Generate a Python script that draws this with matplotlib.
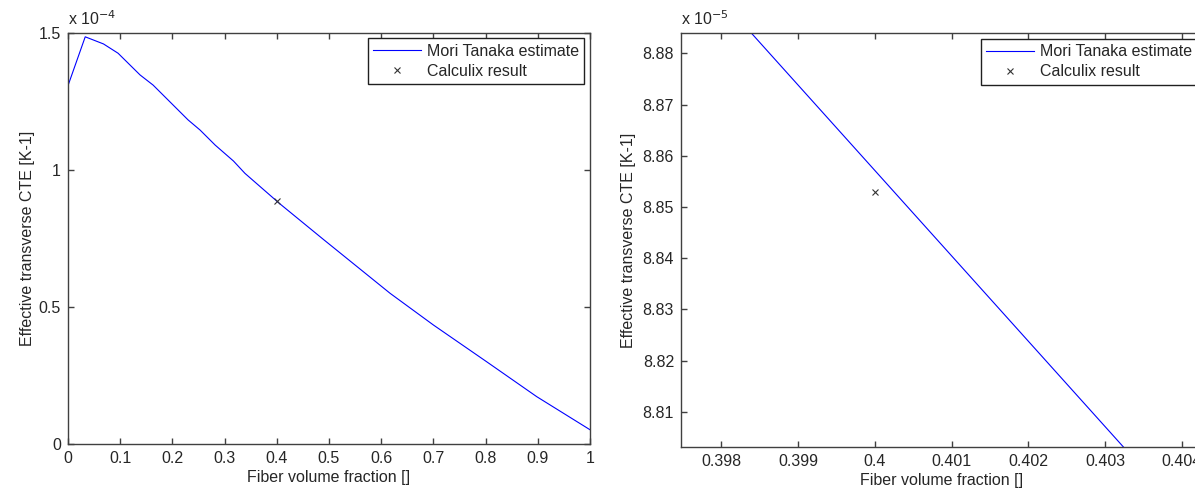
import matplotlib
matplotlib.use("Agg")
import matplotlib.pyplot as plt
from matplotlib.ticker import FuncFormatter

plt.rcParams['font.family'] = ['Liberation Sans', 'DejaVu Sans']
plt.rcParams['font.size'] = 11.5

# Mori-Tanaka estimate of transverse CTE vs fiber volume fraction
vf_mt = [0.0, 0.033, 0.068, 0.096, 0.138, 0.163, 0.230, 0.253, 0.282, 0.317,
         0.339, 0.397, 0.405, 0.489, 0.617, 0.700, 0.802, 0.898, 1.0]
cte_mt = [1.307e-4, 1.485e-4, 1.459e-4, 1.425e-4, 1.346e-4, 1.309e-4, 1.182e-4,
          1.145e-4, 1.090e-4, 1.032e-4, 0.987e-4, 0.89071e-4, 0.87738e-4,
          0.7465e-4, 0.5496e-4, 0.434e-4, 0.300e-4, 0.1726e-4, 0.052e-4]

# Calculix FE result
vf_fe = [0.4]
cte_fe = [8.853e-5]

left_xticks = [0, 0.1, 0.2, 0.3, 0.4, 0.5, 0.6, 0.7, 0.8, 0.9, 1.0]
left_yticks = [0, 0.5e-4, 1.0e-4, 1.5e-4]
right_xticks = [0.398, 0.399, 0.400, 0.401, 0.402, 0.403, 0.404]
right_yticks = [8.81e-5, 8.82e-5, 8.83e-5, 8.84e-5, 8.85e-5, 8.86e-5, 8.87e-5, 8.88e-5]

text_col = '#262626'
axis_col = '#404040'

fig = plt.figure(figsize=(11.95, 5), dpi=100)
ax1 = fig.add_axes([68/1195, 56/500, 522/1195, 411.3/500])
ax2 = fig.add_axes([681/1195, 53.3/500, 522/1195, 413.4/500])


def style_axes(ax, scale, exp_text):
    ax.tick_params(direction='in', length=4, width=1, colors=axis_col,
                   labelcolor=text_col, top=True, right=True, pad=5,
                   labelsize=11.5)
    for s in ax.spines.values():
        s.set_color(axis_col)
        s.set_linewidth(1)
    ax.yaxis.set_major_formatter(FuncFormatter(lambda v, p: '%g' % round(v / scale, 6)))
    ax.xaxis.set_major_formatter(FuncFormatter(lambda v, p: '%g' % round(v, 6)))
    ax.text(0, 1.012, exp_text, transform=ax.transAxes, ha='left', va='bottom',
            color=text_col, fontsize=11.5)
    ax.set_xlabel('Fiber volume fraction []', color=text_col)
    ax.set_ylabel('Effective transverse CTE [K-1]', color=text_col)
    ax.plot(vf_mt, cte_mt, color='#0000ff', lw=0.8, label='Mori Tanaka estimate')
    ax.plot(vf_fe, cte_fe, ls='none', marker='x', ms=4.5, mew=0.8,
            color='#333333', label='Calculix result')
    leg = ax.legend(loc='upper right', fancybox=False, framealpha=1,
                    edgecolor='#202020', handlelength=3.0, handletextpad=0.35,
                    borderaxespad=0.35, labelspacing=0.3, borderpad=0.35,
                    fontsize=11.5)
    leg.get_frame().set_linewidth(1)
    for t in leg.get_texts():
        t.set_color(text_col)


style_axes(ax1, 1e-4, r'x 10$^{-4}$')
ax1.set_xlim(0, 1)
ax1.set_ylim(0, 1.5e-4)
ax1.set_xticks(left_xticks)
ax1.set_yticks(left_yticks)
ax1.xaxis.set_label_coords(0.5, -0.063)
ax1.yaxis.set_label_coords(-0.063, 0.5)

style_axes(ax2, 1e-5, r'x 10$^{-5}$')
ax2.set_xlim(0.397473, 0.404276)
ax2.set_ylim(8.8032e-5, 8.8839e-5)
ax2.set_xticks(right_xticks)
ax2.set_yticks(right_yticks)
ax2.xaxis.set_label_coords(0.5, -0.064)
ax2.yaxis.set_label_coords(-0.086, 0.5)

fig.savefig('out.png', dpi=100)
